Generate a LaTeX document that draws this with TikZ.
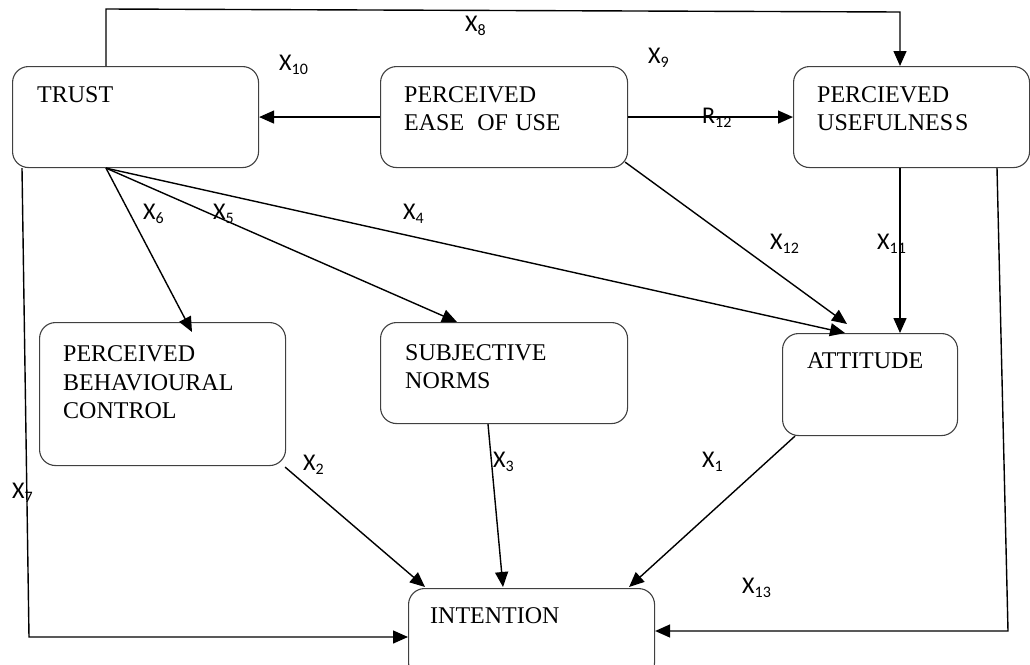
\documentclass[tikz,border=0pt]{standalone}
\usepackage{fontspec}
\setmainfont{Liberation Serif}
\newfontfamily\labfont{Carlito}
\usetikzlibrary{arrows.meta}
\newcommand{\sbx}[1]{\raisebox{-4pt}{\fontsize{16}{16}\selectfont #1}}
\tikzset{
  box/.style={draw=black!75, line width=1.1pt, rounded corners=16pt, anchor=north west, inner sep=0pt},
  boxtxt/.style={anchor=base west, inner sep=0pt, font=\fontsize{24}{28}\selectfont},
  lab/.style={anchor=base west, inner sep=0pt, font=\labfont\fontsize{24}{24}\selectfont},
  arr/.style={draw=black, line width=1.4pt, -{Triangle[length=15pt,width=13pt]}},
}
\begin{document}
\begin{tikzpicture}[x=1pt,y=-1pt]
\useasboundingbox (0,0) rectangle (1030,664);
\clip (0,0) rectangle (1030,664);
% boxes
\node[box, minimum width=246pt, minimum height=101pt] (trust) at (12,66) {};
\node[box, minimum width=247pt, minimum height=101pt] (peou) at (380,66) {};
\node[box, minimum width=236pt, minimum height=101pt] (pu) at (793,66) {};
\node[box, minimum width=246pt, minimum height=143pt] (pbc) at (39,322) {};
\node[box, minimum width=247pt, minimum height=101pt] (sn) at (380,322) {};
\node[box, minimum width=175pt, minimum height=102pt] (att) at (782,333) {};
\node[box, minimum width=246pt, minimum height=90pt] (int) at (408,588) {};
% box texts
\node[boxtxt] (trustT) at (37,102) {TRUST};
\node[boxtxt] (peouT1) at (404,102) {PERCEIVED};
\node[boxtxt] (peouT2) at (404,130) {EASE\hspace{0.55em}OF\hspace{0.3em}USE};
\node[boxtxt] (puT1) at (817,102) {PERCIEVED};
\node[boxtxt] (puT2) at (817,130) {USEFULNES\hspace{0.08em}S};
\node[boxtxt] (pbcT1) at (63,361) {PERCEIVED};
\node[boxtxt] (pbcT2) at (63,390) {BEHAVIOURAL};
\node[boxtxt] (pbcT3) at (63,418) {CONTROL};
\node[boxtxt] (snT1) at (405,360) {SUBJECTIVE};
\node[boxtxt] (snT2) at (405,388) {NORMS};
\node[boxtxt] (attT) at (807,368) {ATTITUDE};
\node[boxtxt] (intT) at (430,623) {INTENTION};
% bend coordinates
\coordinate (b8a) at (106,9);
\coordinate (b8b) at (900,12);
\coordinate (b7) at (29,637);
\coordinate (b13) at (1008,631);
% connectors
\draw[arr] ([xshift=94pt]trust.north west) -- (b8a) -- (b8b) -- ([xshift=107pt]pu.north west);
\draw[arr] (peou.west) -- (trust.east);
\draw[arr] (peou.east) -- (pu.west);
\draw[arr] ([xshift=94pt]trust.south west) -- ([xshift=153pt,yshift=-10pt]pbc.north west);
\draw[arr] ([xshift=94pt]trust.south west) -- ([xshift=77pt]sn.north west);
\draw[arr] ([xshift=94pt]trust.south west) -- ([xshift=63pt]att.north west);
\draw[arr] ([xshift=-3pt,yshift=6pt]peou.south east) -- ([xshift=65pt,yshift=9pt]att.north west);
\draw[arr] ([xshift=107pt]pu.south west) -- ([xshift=118pt]att.north west);
\draw[arr] ([xshift=204pt]pu.south west) -- (b13) -- (b13 -| int.east);
\draw[arr] ([xshift=10pt]trust.south west) -- (b7) -- (b7 -| int.west);
\draw[arr] ([xshift=-1pt,yshift=-1pt]pbc.south east) -- ([xshift=17pt,yshift=1pt]int.north west);
\draw[arr] ([xshift=108pt]sn.south west) -- ([xshift=95pt,yshift=1pt]int.north west);
\draw[arr] ([xshift=13pt]att.south west) -- ([xshift=-26pt,yshift=1pt]int.north east);
% labels
\node[lab] (l8) at (465,31) {X\sbx{8}};
\node[lab] (l10) at (279,70) {X\sbx{10}};
\node[lab] (l9) at (648,63) {X\sbx{9}};
\node[lab] (r12) at (702,123) {R\sbx{12}};
\node[lab] (l6) at (143,219) {X\sbx{6}};
\node[lab] (l5) at (213,219) {X\sbx{5}};
\node[lab] (l4) at (403,219) {X\sbx{4}};
\node[lab] (l12) at (770,249) {X\sbx{12}};
\node[lab] (l11) at (877,249) {X\sbx{11}};
\node[lab] (l2) at (303,470) {X\sbx{2}};
\node[lab] (l3) at (493,467) {X\sbx{3}};
\node[lab] (l7) at (12,498) {X\sbx{7}};
\node[lab] (l1) at (702,467) {X\sbx{1}};
\node[lab] (l13) at (742,593) {X\sbx{13}};
\end{tikzpicture}
\end{document}
